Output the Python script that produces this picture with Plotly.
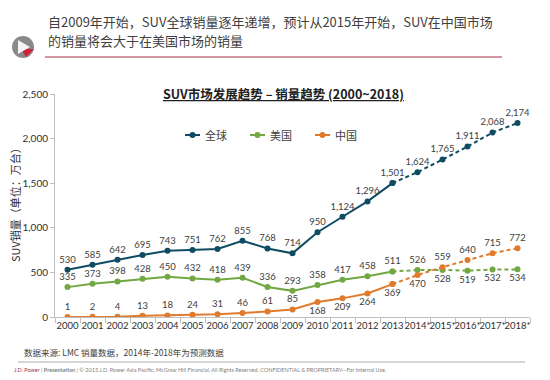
import plotly.graph_objects as go

years = ["2000", "2001", "2002", "2003", "2004", "2005", "2006", "2007", "2008", "2009",
         "2010", "2011", "2012", "2013", "2014*", "2015*", "2016*", "2017*", "2018*"]
global_sales = [530, 585, 642, 695, 743, 751, 762, 855, 768, 714, 950, 1124, 1296, 1501,
                1624, 1765, 1911, 2068, 2174]
us_sales = [335, 373, 398, 428, 450, 432, 418, 439, 336, 293, 358, 417, 458, 511,
            526, 528, 519, 532, 534]
china_sales = [1, 2, 4, 13, 18, 24, 31, 46, 61, 85, 168, 209, 264, 369,
               470, 559, 640, 715, 772]
series_names = ["全球", "美国", "中国"]
colors = ["#0F4C63", "#72A843", "#E07A2C"]

us_pos = ["top center"] * 15 + ["bottom center"] * 4
china_pos = ["top center"] * 10 + ["bottom center"] * 5 + ["top center"] * 4
global_pos = ["top center"] * 19

HIST = 14  # 2000-2013 actual

# page body has an 8px margin: work in screen coordinates and shift
OFF = 8
W, H = 550 - OFF, 380 - OFF
L, R, T, B = 55 - OFF, 20, 94 - OFF, 63
PW, PH = W - L - R, H - T - B


def px(x):
    return (x - OFF - L) / PW


def py(y):
    return (H - B - (y - OFF)) / PH


num_font = dict(family="Lato, Noto Sans CJK SC", size=9.5, color="#404040")
fig = go.Figure()

for name, vals, col, pos in [(series_names[0], global_sales, colors[0], global_pos),
                             (series_names[1], us_sales, colors[1], us_pos),
                             (series_names[2], china_sales, colors[2], china_pos)]:
    txt = [f"{v:,}" for v in vals]
    fig.add_trace(go.Scatter(
        x=years[:HIST], y=vals[:HIST], name=name, mode="lines+markers+text",
        line=dict(color=col, width=2), marker=dict(color=col, size=6),
        text=txt[:HIST], textposition=pos[:HIST], textfont=num_font,
        showlegend=False))
    fig.add_trace(go.Scatter(
        x=years[HIST - 1:], y=vals[HIST - 1:], name=name + " (预测)", mode="lines+markers+text",
        line=dict(color=col, width=2, dash="4px,3px"), marker=dict(color=col, size=6),
        text=[""] + txt[HIST:], textposition=pos[HIST - 1:], textfont=num_font,
        showlegend=False))

cjk = "Noto Sans CJK SC"
shapes = []
annotations = []

# custom legend
leg_y = 135
for i, (name, col) in enumerate(zip(series_names, colors)):
    x0 = 185 + 65 * i
    shapes.append(dict(type="line", xref="paper", yref="paper", x0=px(x0), x1=px(x0 + 15),
                       y0=py(leg_y), y1=py(leg_y), line=dict(color=col, width=2)))
    shapes.append(dict(type="circle", xref="paper", yref="paper",
                       x0=px(x0 + 7.5 - 3), x1=px(x0 + 7.5 + 3),
                       y0=py(leg_y + 3), y1=py(leg_y - 3), fillcolor=col, line=dict(width=0)))
    annotations.append(dict(text=name, x=px(x0 + 18), y=py(leg_y), xref="paper", yref="paper",
                            xanchor="left", yanchor="middle", showarrow=False,
                            font=dict(family=cjk, size=11, color="#404040")))

# header red line
shapes.append(dict(type="line", xref="paper", yref="paper", x0=px(45), x1=px(502),
                   y0=py(57), y1=py(57), line=dict(color="#A8314B", width=1.2)))
# footer gray line
shapes.append(dict(type="line", xref="paper", yref="paper", x0=px(18), x1=px(525),
                   y0=py(362), y1=py(362), line=dict(color="#C8C8C8", width=1.5)))
# logo
cx, cy, r = 23, 47, 11
shapes.append(dict(type="circle", xref="paper", yref="paper", x0=px(cx - r), x1=px(cx + r),
                   y0=py(cy + r), y1=py(cy - r), fillcolor="#8A8A8A", line=dict(width=0)))
red_path = "M {} {} L {} {} L {} {} Z".format(px(cx - 2), py(cy + 2), px(cx + 11), py(cy + 2),
                                             px(cx + 3), py(cy + 10))
shapes.append(dict(type="path", xref="paper", yref="paper", path=red_path,
                   fillcolor="#D0213A", line=dict(width=0)))
tri = "M {} {} L {} {} L {} {} Z".format(px(cx - 5), py(cy - 7), px(cx + 7), py(cy),
                                         px(cx - 5), py(cy + 7))
shapes.append(dict(type="path", xref="paper", yref="paper", path=tri,
                   fillcolor="#F4F4F4", line=dict(width=0)))

annotations += [
    dict(text="自2009年开始，SUV全球销量逐年递增，预计从2015年开始，SUV在中国市场",
         x=px(46), y=py(22), xref="paper", yref="paper", xanchor="left", yanchor="middle",
         showarrow=False, font=dict(family=cjk, size=13, color="#404040")),
    dict(text="的销量将会大于在美国市场的销量",
         x=px(46), y=py(41), xref="paper", yref="paper", xanchor="left", yanchor="middle",
         showarrow=False, font=dict(family=cjk, size=13, color="#404040")),
    dict(text="<b>SUV市场发展趋势 – 销量趋势 (2000~2018)</b>",
         x=px(283), y=py(93), xref="paper", yref="paper", xanchor="center", yanchor="middle",
         showarrow=False, font=dict(family=cjk, size=12.5, color="#202020", lineposition="under")),
    dict(text="数据来源: LMC 销量数据，2014年-2018年为预测数据",
         x=px(22), y=py(352), xref="paper", yref="paper", xanchor="left", yanchor="middle",
         showarrow=False, font=dict(family=cjk, size=8.5, color="#404040")),
    dict(text="<span style='color:#A8314B'>J.D. Power</span> | <b>Presentation</b> | © 2013 J.D. Power Asia Pacific, McGraw Hill Financial. All Rights Reserved. CONFIDENTIAL &amp; PROPRIETARY—For Internal Use.",
         x=px(12), y=py(370), xref="paper", yref="paper", xanchor="left", yanchor="middle",
         showarrow=False, font=dict(family="Lato", size=5.5, color="#7F7F7F")),
    dict(text="SUV销量（单位：万台）", textangle=-90,
         x=px(15), y=py(202), xref="paper", yref="paper", xanchor="center", yanchor="middle",
         showarrow=False, font=dict(family=cjk, size=11, color="#303030")),
]

fig.update_layout(
    width=W, height=H, margin=dict(l=L, r=R, t=T, b=B),
    paper_bgcolor="white", plot_bgcolor="white", showlegend=False,
    shapes=shapes, annotations=annotations,
    xaxis=dict(type="category", range=[-0.5, 18.5], showline=True, linecolor="#BFBFBF",
               ticks="outside", tickson="boundaries", ticklen=5, tickcolor="#BFBFBF",
               showgrid=False, tickfont=dict(family="Lato", size=9.5, color="#303030"),
               tickangle=0),
    yaxis=dict(range=[0, 2500], tickvals=[0, 500, 1000, 1500, 2000, 2500],
               ticktext=["0", "500", "1,000", "1,500", "2,000", "2,500"],
               showline=True, linecolor="#BFBFBF", ticks="outside", ticklen=4,
               tickcolor="#BFBFBF", showgrid=False, zeroline=False,
               tickfont=dict(family="Lato", size=10, color="#303030")),
)

fig.write_html("out.html")
